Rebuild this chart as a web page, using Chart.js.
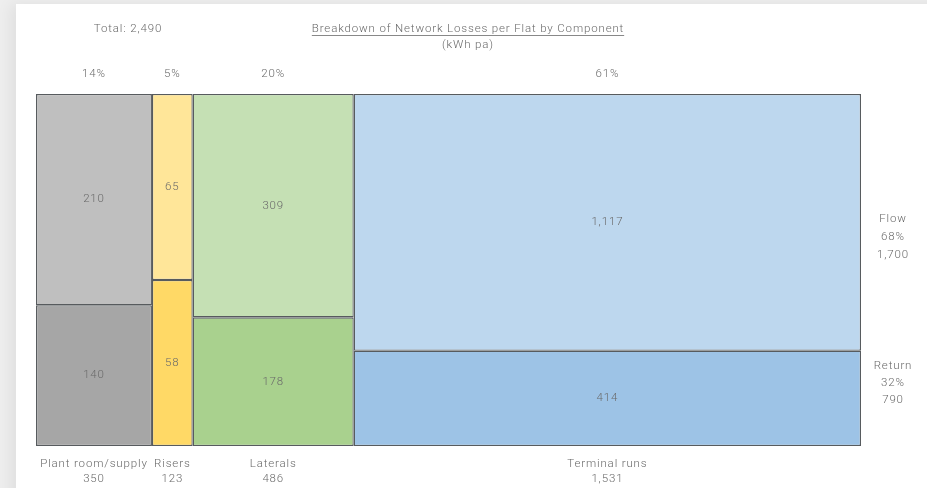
<!DOCTYPE html>
<html>
<head>
<meta charset="utf-8">
<title>Network Losses per Flat</title>
<script src="https://cdn.jsdelivr.net/npm/chart.js@4.4.1/dist/chart.umd.min.js"></script>
<style>
  html, body { margin: 0; padding: 0; background: #eeeeee; }
  body { width: 927px; height: 488px; position: relative; overflow: hidden; }
  .card {
    position: absolute; left: 16px; top: 4px; right: -20px; bottom: -20px;
    background: #fff;
    box-shadow: -6px 0 14px rgba(0,0,0,0.06);
  }
  .wrap { position: absolute; left: 0; top: 0; width: 927px; height: 488px; }
</style>
</head>
<body>
<div class="card"></div>
<div class="wrap"><canvas id="mekko"></canvas></div>
<script>
const components = ['Plant room/supply', 'Risers', 'Laterals', 'Terminal runs'];
const columnTotals = [350, 123, 486, 1531];
const columnTotalLabels = ['350', '123', '486', '1,531'];
const shareLabels = ['14%', '5%', '20%', '61%'];
const flowValues = [210, 65, 309, 1117];
const returnValues = [140, 58, 178, 414];
const flowLabels = ['210', '65', '309', '1,117'];
const returnLabels = ['140', '58', '178', '414'];
const seriesNotes = { flow: ['Flow', '68%', '1,700'], ret: ['Return', '32%', '790'] };
const totalLabel = 'Total: 2,490';

const flowColors = ['#bfbfbf', '#ffe699', '#c5e0b4', '#bdd7ee'];
const returnColors = ['#a6a6a6', '#ffd966', '#a9d18e', '#9dc3e6'];

const FONT = '300 11.5px Roboto, "DejaVu Sans", sans-serif';
const TEXT = '#6a6a6a';
const EDGE = 'rgba(58, 62, 66, 0.85)';

// column edges along the x axis (cumulative totals)
const grandTotal = columnTotals.reduce((a, b) => a + b, 0);
const starts = [];
let acc = 0;
columnTotals.forEach(v => { starts.push(acc); acc += v; });
const centers = columnTotals.map((v, i) => starts[i] + v / 2);
const returnShare = returnValues.map((r, i) => r / (r + flowValues[i]));

// stretch each bar to its column width
const mekkoWidths = {
    id: 'mekkoWidths',
    afterDatasetsUpdate(chart) {
        const xs = chart.scales.x;
        chart.data.datasets.forEach((ds, d) => {
            chart.getDatasetMeta(d).data.forEach((el, i) => {
                const l = xs.getPixelForValue(starts[i]);
                const r = xs.getPixelForValue(starts[i] + columnTotals[i]);
                el.x = (l + r) / 2;
                el.width = r - l;
            });
        });
    }
};

const mekkoText = {
    id: 'mekkoText',
    afterDraw(chart) {
        const ctx = chart.ctx;
        const xs = chart.scales.x, ys = chart.scales.y;
        const area = chart.chartArea;
        ctx.save();
        ctx.fillStyle = TEXT;
        ctx.textAlign = 'center';
        ctx.textBaseline = 'middle';
        ctx.font = FONT;
        ctx.letterSpacing = '0.85px';

        // title
        const tx = 468;
        const title = 'Breakdown of Network Losses per Flat by Component';
        ctx.fillText(title, tx, 29);
        const w = ctx.measureText(title).width;
        ctx.strokeStyle = TEXT;
        ctx.lineWidth = 0.8;
        ctx.beginPath();
        ctx.moveTo(tx - w / 2, 35.5);
        ctx.lineTo(tx + w / 2, 35.5);
        ctx.stroke();
        ctx.fillText('(kWh pa)', tx, 45);
        ctx.fillText(totalLabel, 128, 29);

        // value labels inside each segment
        chart.data.datasets.forEach((ds, d) => {
            const labels = d === 0 ? returnLabels : flowLabels;
            chart.getDatasetMeta(d).data.forEach((el, i) => {
                ctx.fillText(labels[i], el.x, (el.y + el.base) / 2);
            });
        });

        // shares above, names and totals below
        centers.forEach((c, i) => {
            const x = xs.getPixelForValue(c);
            ctx.fillText(shareLabels[i], x, 74);
            ctx.fillText(components[i], x, area.bottom + 18);
            ctx.fillText(columnTotalLabels[i], x, area.bottom + 33);
        });

        // series notes on the right
        const rx = area.right + 32;
        const fy = ys.getPixelForValue(0.594);
        seriesNotes.flow.forEach((t, k) => ctx.fillText(t, rx, fy + (k - 1) * 18));
        const ry = ys.getPixelForValue(0.18);
        seriesNotes.ret.forEach((t, k) => ctx.fillText(t, rx, ry + (k - 1) * 17));
        ctx.restore();
    }
};

new Chart(document.getElementById('mekko'), {
    type: 'bar',
    data: {
        datasets: [{
            label: 'Return',
            data: centers.map((c, i) => ({ x: c, y: [0, returnShare[i]] })),
            backgroundColor: returnColors,
            borderColor: EDGE,
            borderWidth: 1.3,
            borderSkipped: false
        }, {
            label: 'Flow',
            data: centers.map((c, i) => ({ x: c, y: [returnShare[i], 1] })),
            backgroundColor: flowColors,
            borderColor: EDGE,
            borderWidth: 1.3,
            borderSkipped: false
        }]
    },
    options: {
        responsive: true,
        maintainAspectRatio: false,
        animation: false,
        grouped: false,
        layout: { padding: { left: 36, right: 66, top: 94, bottom: 42 } },
        plugins: { legend: { display: false }, tooltip: { enabled: false } },
        scales: {
            x: { type: 'linear', min: 0, max: grandTotal, offset: false, display: false },
            y: { min: 0, max: 1, display: false }
        }
    },
    plugins: [mekkoWidths, mekkoText]
});
</script>
</body>
</html>
